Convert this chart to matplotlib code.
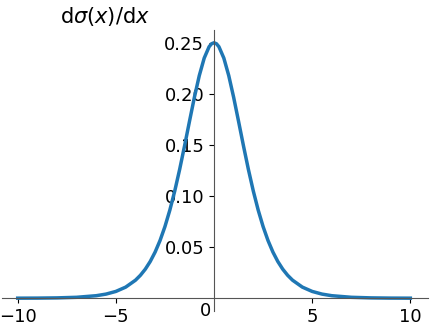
import matplotlib
matplotlib.use('Agg')
import matplotlib.pyplot as plt

# Values
x = [-10, -9, -8, -7, -6, -5.5, -5, -4.5, -4, -3.75, -3.5, -3.25, -3, -2.75, -2.5, -2.25,
     -2, -1.75, -1.5, -1.25, -1, -0.75, -0.5, -0.25, -0.125, 0, 0.125, 0.25, 0.5, 0.75, 1,
     1.25, 1.5, 1.75, 2, 2.25, 2.5, 2.75, 3, 3.25, 3.5, 3.75, 4, 4.5, 5, 5.5, 6, 7, 8, 9, 10]
y = [0.00005, 0.00012, 0.00034, 0.00091, 0.00247, 0.00405, 0.00665, 0.01087, 0.01766,
     0.02245, 0.02845, 0.03594, 0.04518, 0.05648, 0.07011, 0.08626, 0.10499, 0.12613,
     0.14915, 0.17311, 0.19661, 0.21790, 0.23500, 0.24613, 0.24903, 0.25, 0.24903,
     0.24613, 0.23500, 0.21790, 0.19661, 0.17311, 0.14915, 0.12613, 0.10499, 0.08626,
     0.07011, 0.05648, 0.04518, 0.03594, 0.02845, 0.02245, 0.01766, 0.01087, 0.00665,
     0.00405, 0.00247, 0.00091, 0.00034, 0.00012, 0.00005]
xticks = [-10, -5, 5, 10]
yticks = [0.05, 0.10, 0.15, 0.20, 0.25]

fig = plt.figure(figsize=(4.4, 3.32), dpi=100)
ax = fig.add_axes([2/440, 21/332, 426/440, 281/332])
ax.plot(x, y, color='#1f77b4', linewidth=2.5)

ax.spines['left'].set_position(('data', 0))
ax.spines['bottom'].set_position(('data', 0))
ax.spines['top'].set_visible(False)
ax.spines['right'].set_visible(False)
for s in ['left', 'bottom']:
    ax.spines[s].set_color('#555555')

ax.set_xlim(-10.8, 10.9)
ax.set_ylim(-0.0125, 0.2625)
ax.set_xticks(xticks)
ax.set_yticks(yticks)
ax.set_yticklabels(['%.2f' % v for v in yticks])
ax.tick_params(labelsize=13)
ax.text(-0.45, -0.004, '0', ha='center', va='top', fontsize=13)

fig.text(105/440, 1 - 16/332, r'$\mathrm{d}\sigma(x)/\mathrm{d}x$', ha='center', va='center',
         fontsize=15)

fig.savefig('out.png', dpi=100)
